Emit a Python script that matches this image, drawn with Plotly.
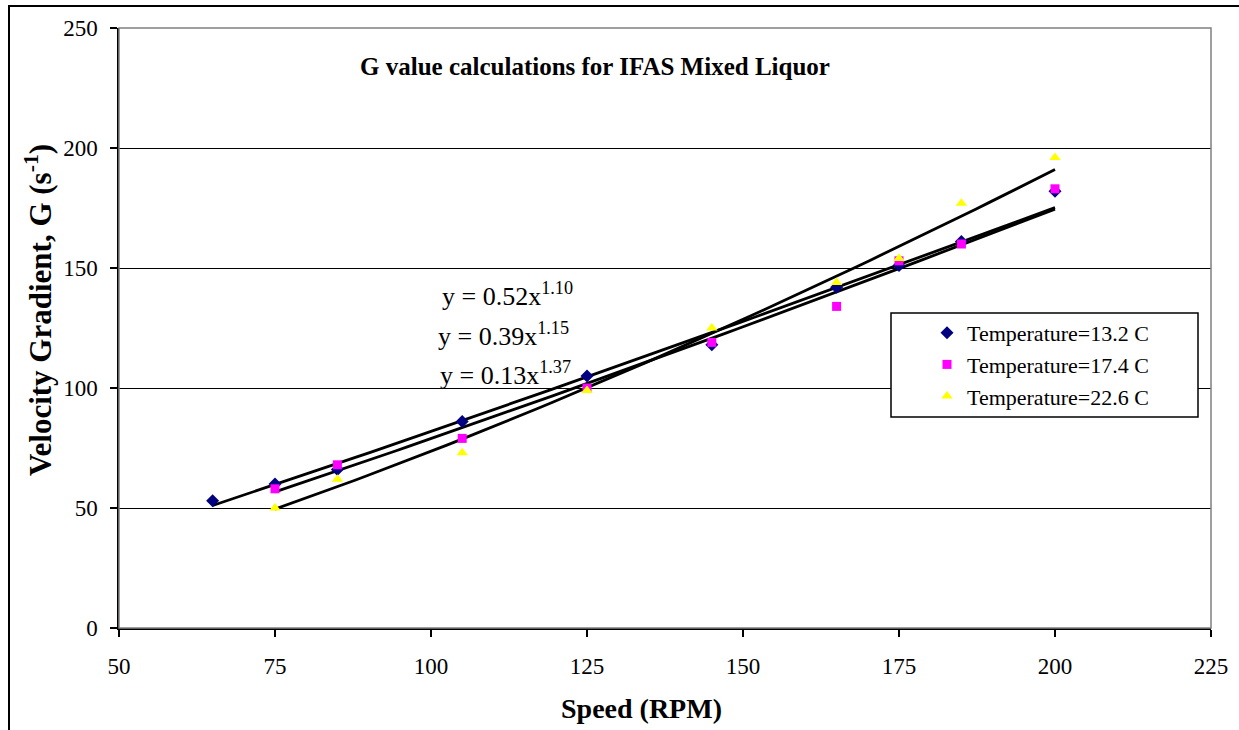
import numpy as np
import plotly.graph_objects as go

# ---- data ----
names = ["Temperature=13.2 C", "Temperature=17.4 C", "Temperature=22.6 C"]
x_132 = [65, 75, 85, 105, 125, 145, 165, 175, 185, 200]
y_132 = [53, 60, 66, 86, 105, 118, 142, 151, 161, 182]
x_174 = [75, 85, 105, 125, 145, 165, 175, 185, 200]
y_174 = [58, 68, 79, 100, 119, 134, 153, 160, 183]
x_226 = [75, 85, 105, 125, 145, 165, 175, 185, 200]
y_226 = [50, 62, 73, 99, 125, 144, 154, 177, 196]
equations = ["y = 0.52x<sup>1.10</sup>", "y = 0.39x<sup>1.15</sup>", "y = 0.13x<sup>1.37</sup>"]
x_ticks = [50, 75, 100, 125, 150, 175, 200, 225]
y_ticks = [0, 50, 100, 150, 200, 250]

series = [(x_132, y_132), (x_174, y_174), (x_226, y_226)]
colors = ["#000080", "#FF00FF", "#FFFF00"]
symbols = ["diamond", "square", "triangle-up"]
sizes = [10, 9, 10]

FONT = "Liberation Serif"

W, H = 1239, 730
L, R, T, B = 119, 28, 28, 102
PW, PH = W - L - R, H - T - B


def px(xp):
    return (xp - L) / PW


def py(yp):
    return (H - B - yp) / PH


fig = go.Figure()

# power-law trendlines fitted to each series (least squares in log-log space)
for xs, ys in series:
    xa, ya = np.array(xs, float), np.array(ys, float)
    b, ln_a = np.polyfit(np.log(xa), np.log(ya), 1)
    xf = np.linspace(xa.min(), xa.max(), 60)
    fig.add_trace(go.Scatter(x=xf, y=np.exp(ln_a) * xf ** b, mode="lines",
                             line=dict(color="black", width=2.8),
                             showlegend=False, hoverinfo="skip"))

for i, (xs, ys) in enumerate(series):
    fig.add_trace(go.Scatter(x=xs, y=ys, mode="markers", name=names[i],
                             legendgroup=f"g{i}",
                             marker=dict(color=colors[i], symbol=symbols[i], size=sizes[i],
                                         line=dict(width=0))))

shapes = [
    # plot-area border (grey top / right)
    dict(type="rect", xref="paper", yref="paper", x0=0, x1=1, y0=0, y1=1,
         line=dict(color="#808080", width=1.5), layer="above"),
    # legend box
    dict(type="rect", xref="paper", yref="paper", x0=px(891), x1=px(1198), y0=py(417), y1=py(313),
         line=dict(color="black", width=1.5), fillcolor="white", layer="above"),
    # outer chart frame
    dict(type="rect", xref="paper", yref="paper", x0=px(9), x1=px(1250), y0=py(745), y1=py(6),
         line=dict(color="black", width=2)),
]

annotations = [
    dict(text="<b>G value calculations for IFAS Mixed Liquor</b>", x=px(595), y=py(67),
         xref="paper", yref="paper", xanchor="center", yanchor="middle", showarrow=False,
         font=dict(size=25, color="black", family=FONT)),
    dict(text="<b>Speed (RPM)</b>", x=px(641), y=py(708), xref="paper", yref="paper",
         xanchor="center", yanchor="middle",
         showarrow=False, font=dict(size=28, color="black", family=FONT)),
    dict(text="<b>Velocity Gradient, G (s<sup>-1</sup>)</b>", x=px(38), y=py(310), xref="paper",
         yref="paper", xanchor="center", yanchor="middle", showarrow=False, textangle=-90,
         font=dict(size=31, color="black", family=FONT)),
]
eq_y = [295, 334, 373]
eq_x = [507, 503, 505]
for t, xe, ye in zip(equations, eq_x, eq_y):
    annotations.append(dict(text=t, x=px(xe), y=py(ye), xref="paper", yref="paper",
                            xanchor="center", yanchor="middle", showarrow=False,
                            font=dict(size=26, color="black", family=FONT)))

fig.update_layout(
    width=W, height=H, autosize=False,
    margin=dict(l=L, r=R, t=T, b=B),
    paper_bgcolor="white", plot_bgcolor="white",
    font=dict(family=FONT, color="black", size=22),
    shapes=shapes, annotations=annotations,
    showlegend=True,
    legend=dict(x=px(927), y=py(312), xanchor="left", yanchor="top",
                bgcolor="rgba(0,0,0,0)", borderwidth=0, tracegroupgap=0,
                font=dict(size=22, family=FONT, color="black")),
    xaxis=dict(range=[50, 225], tickvals=x_ticks, showgrid=False, zeroline=False,
               showline=True, linecolor="black", linewidth=1.5,
               ticks="outside", ticklen=7, tickcolor="black", tickwidth=1.5,
               ticklabelstandoff=10, tickfont=dict(size=23, family=FONT)),
    yaxis=dict(range=[0, 250], tickvals=y_ticks, showgrid=True, gridcolor="black", gridwidth=1,
               zeroline=False, showline=True, linecolor="black", linewidth=1.5,
               ticks="outside", ticklen=7, tickcolor="black", tickwidth=1.5,
               ticklabelstandoff=8, tickfont=dict(size=23, family=FONT)),
)

fig.write_html("out.html")
